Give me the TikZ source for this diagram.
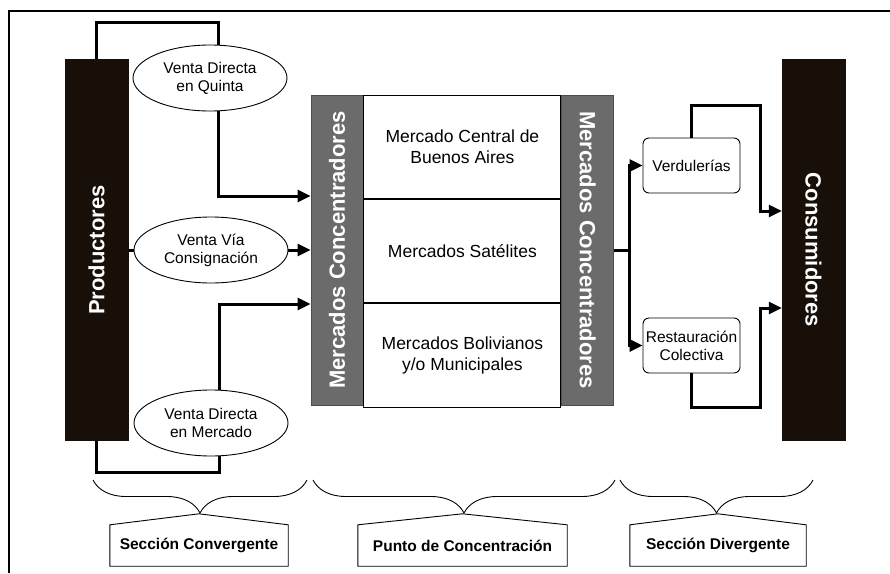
\documentclass[tikz,border=0pt]{standalone}
\usepackage{fontspec}
\setmainfont{Liberation Sans}
\usetikzlibrary{shapes,arrows.meta,calc,positioning,decorations.pathreplacing}

\begin{document}
\begin{tikzpicture}[x=1pt, y=-1pt, every node/.style = {align=center, inner sep=1pt}]
	\tikzset{ darkbar/.style = {rectangle, fill=black!88!brown, draw=black!88!brown, minimum width=63, minimum height=381} }
	\tikzset{ greybar/.style = {rectangle, fill=black!58, draw=black!70, line width=0.9pt, minimum width=52, minimum height=310} }
	\tikzset{ cell/.style = {rectangle, draw, line width=0.9pt, minimum width=197, minimum height=103.5, font=\fontsize{17.5}{21}\selectfont} }
	\tikzset{ venta/.style = {ellipse, draw, line width=0.9pt, minimum width=154, minimum height=66, font=\fontsize{15.5}{18}\selectfont} }
	\tikzset{ shop/.style = {rectangle, rounded corners=6, draw, line width=0.9pt, minimum width=97, minimum height=55, inner sep=0pt, font=\fontsize{15.5}{18}\selectfont} }
	\tikzset{ vlabel/.style = {text=white, font=\fontsize{22}{26}\bfseries\selectfont} }
	\tikzset{ section/.style = {minimum height=41, font=\fontsize{15.5}{18}\bfseries\selectfont} }
	\tikzset{ conn/.style = {line width=3pt} }
	\tikzset{ arr/.style = {conn, -{Triangle[length=13pt,width=12pt]}} }
	\tikzset{ brc/.style = {line width=0.9pt, decorate, decoration={brace, mirror, amplitude=33pt}} }

	\useasboundingbox (0,0) rectangle (890,573);
	\draw[line width=2.5pt] (9,573) -- (9,11) -- (890,11);

	% producers and consumers
	\node[darkbar] (prod) at (96.5,250) {};
	\node[vlabel, rotate=90] at (prod) {Productores};
	\node[darkbar] (cons) at (813.5,250) {};
	\node[vlabel, rotate=-90] at (cons) {Consumidores};

	% sales channels
	\node[venta] (quinta) at (210,78) {Venta Directa\\en Quinta};
	\node[venta] (consig) at (211,250) {Venta Vía\\Consignación};
	\node[venta] (mercado) at (211,423) {Venta Directa\\en Mercado};

	% concentration markets
	\node[greybar] (conc1) at (337,250) {};
	\node[vlabel, rotate=90] at (conc1) {Mercados Concentradores};
	\node[cell, anchor=north west] (central) at (conc1.north east) {Mercado Central de\\Buenos Aires};
	\node[cell, below=0pt of central] (satel) {Mercados Satélites};
	\node[cell, below=0pt of satel] (boliv) {Mercados Bolivianos\\y/o Municipales};
	\node[greybar, anchor=north west] (conc2) at (central.north east) {};
	\node[vlabel, rotate=-90] at (conc2) {Mercados Concentradores};

	\node[shop] (verd) at (691.5,165.5) {Verdulerías};
	\node[shop] (resta) at (691.5,345.5) {Restauración\\Colectiva};

	\draw[conn] (prod.north) -- ++(0,-37) -| (quinta.75);
	\draw[arr] (quinta.-75) |- ([yshift=54pt]conc1.west);
	\draw[conn] (prod) -- (consig);
	\draw[arr] (consig) -- (conc1);
	\draw[arr] (mercado.75) |- ([yshift=-54pt]conc1.west);
	\draw[conn] (prod.south) -- ++(0,32) -| (mercado.-75);

	\draw[conn] (conc2.east) -- ++(15,0) coordinate (split);
	\draw[arr] (split) |- (verd.west);
	\draw[arr] (split) |- (resta.west);
	\draw[arr] (verd.north) |- ++(69,-32) |- ([yshift=39pt]cons.west);
	\draw[arr] (resta.south) |- ++(69,34) |- ([yshift=-58pt]cons.west);

	% sections
	\draw[brc] (93,480) -- (307,480);
	\draw[brc] (313,480) -- (615,480);
	\draw[brc] (620,480) -- (813,480);
	\node[section, minimum width=178] (conv) at (199,545.5) {Sección Convergente};
	\node[section, minimum width=209] (punto) at (462.5,545.5) {Punto de Concentración};
	\node[section, minimum width=176] (diverg) at (718,545.5) {Sección Divergente};
	\foreach \n in {conv,punto,diverg}
		\draw[line width=0.9pt] (\n.south west) -- (\n.north west) -- ([yshift=11pt]\n.north) -- (\n.north east) -- (\n.south east) -- cycle;
\end{tikzpicture}
\end{document}
